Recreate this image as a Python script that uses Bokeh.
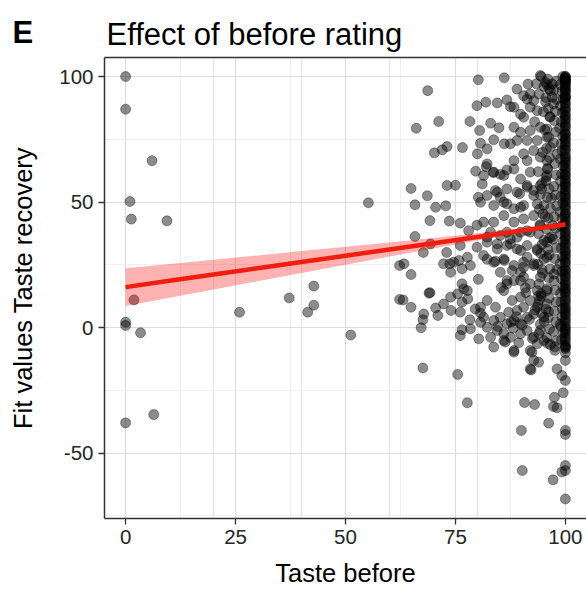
from bokeh.plotting import figure
from bokeh.models import (Range1d, SingleIntervalTicker, LinearAxis, Title, ColumnDataSource, Grid)
from bokeh.embed import file_html
from bokeh.resources import INLINE

# ---------------- data ----------------
# sparse points (low "taste before")
sparse_x = [0, 0, 6, 1, 1.3, 9.4, 55.2, 1.9, 0, 0, 3.4, 25.9, 37.2, 42.8, 41.4, 42.8, 51.2, 0, 6.4, 62.3, 62.3]
sparse_y = [100, 87, 66.5, 50.2, 43.2, 42.5, 49.7, 11, 2.1, 0.8, -2.1, 6.1, 11.8, 8.9, 6.1, 16.5, -3, -38, -34.7, 11.2, 24.7]

# medium points (62-80)
mid_x = [68.7, 80.2, 66.1, 71.2, 70.2, 72, 73.1, 76.6, 78.3, 79.9, 80.5, 80, 79.6, 64.9, 68.6, 65.8, 70.5,
         72.8, 73.1, 75, 69.2, 73.6, 76.1, 79.9, 65.8, 67.7, 63.3, 64.9, 69.2, 73, 73.7, 75.8, 76.5, 77.7,
         80.2, 76.5, 77.7, 79.9, 78, 69.3, 76.1, 72.3, 74.6, 78.4, 73.9,
         63.1, 64.9, 69, 67.8, 67.6, 67.2, 70.5, 71, 72.3, 73.9, 75.5, 76.9, 74, 76.1, 76.5, 77.8, 78.3,
         79.5, 76.1, 76.5, 78.4, 67.6, 75.5, 77.7, 80.3, 80.7, 80.7]
mid_y = [94.4, 98.7, 79.4, 82.1, 69.6, 70.8, 72.1, 71.7, 82.1, 88.4, 78.5, 69.2, 62.3, 55.4, 52.5, 48.9, 47.9,
         48.5, 56.6, 56.7, 42.6, 42.4, 41.6, 40.8, 36.3, 29.9, 25.4, 21.1, 13.9, 29.9, 25.4, 26.7, 23.4, 28,
         19.2, 17.4, 14.7, 32, 38.6, 33.3, 32.7, 25.4, 26, 24.7, 22,
         11, 8.1, 13.7, 5.4, 3.1, -0.1, 7.8, 4.8, 9.4, 12.1, 13.4, 15.4, 6.8, 6.1, 10.1, 11.4, 3.1,
         7.4, -3.2, -0.9, -0.5, -16.1, -18.7, -30, -4.5, 2.1, 5.7]

# dense cloud (80-97)
dense_x = [86.1, 81.9, 84.5, 86.7, 83, 84.9, 80.7, 82.2, 83.7, 86.1, 82, 83.6, 85.2, 86.7, 94.5, 93.4, 95.1,
           95.8, 90.5, 92, 92.8, 92, 93.6, 96.6, 97, 97.3, 88.3, 90.5, 88.3, 89.8, 89, 87.5, 91.3, 94.3,
           95.8, 92.8, 90.5, 94.3, 95.8, 91.3, 82.2, 88.3, 93.6, 96.6, 92, 94.3, 95.5, 87.5, 89.8, 91.3,
           94, 95.5, 93, 96.5, 95, 89, 91.5, 96, 97,
           81.1, 84.1, 85.2, 86.7, 89.6, 89.8, 91.3, 92.8, 80.2,
           81.4, 83.7, 86, 88.3, 89.8, 92, 91.3, 89, 86.7, 84.5, 82.2, 80.7, 83.7, 86, 88.3, 90.5, 92.8,
           92.8, 90.5, 88.3, 86, 83.7, 81.4, 83, 85.2, 87.5, 89.8, 92, 94.3, 95.8, 93.6, 91.3, 89, 86.7,
           84.5, 82.2, 81.4, 83.7, 86, 88.3, 90.5, 92.8, 95.1, 89.8, 85.2, 94.3, 95.1, 95.8,
           82.2, 84.1, 86.1, 87.9, 90.5, 86.7, 89.8, 91.3, 92.8, 95.1, 93.6, 82.2, 84.5, 86.7, 89, 91.3,
           89.8, 87.5,
           82.2, 84.1, 86, 86.7, 88.3, 87.9, 89.8, 89, 90.5, 92, 91.3, 92.8, 93.6, 89.8, 88.3, 86.7, 85.2,
           83.7, 82.2, 81.4, 80.7, 83, 84.5, 86, 87.5, 89.8, 91.3, 92.8, 94.3, 95.1, 95.8, 93.6, 92, 90.5,
           88.3, 92, 93.6, 95.1, 86, 83.7, 92.8, 92, 94.3, 95.8,
           88.3, 92.4, 93.9, 92.2, 90.7, 93, 90, 96.2, 97.5, 97.3, 98.1, 99.5, 98.1, 99.2, 90.2, 97.2, 99.2,
           94.5, 96.2, 95.4, 96.8, 94.8, 95.6, 96.3, 97.1, 94.1, 95.2, 96.6, 97.4, 95.9, 94.6, 96.9, 95.3,
           85.4, 87.1, 88.9, 90.2, 91.8, 93.1, 84.6, 86.3, 88.1, 89.4, 91.0, 92.5, 93.9, 87.7, 90.9, 94.7]
dense_y = [99.5, 89.8, 89.5, 90.7, 81.4, 79.6, 73.4, 71.2, 74.8, 73.2, 64.1, 61.8, 61, 62.8, 100, 97.1, 96,
           96.8, 92.4, 93.1, 90.4, 87.8, 86.4, 94.4, 91.8, 89.1, 87.8, 83.8, 79.8, 77.8, 74.5, 73.2, 74.5, 79.8,
           75.8, 70.5, 69.2, 67.9, 66.5, 66.5, 65.2, 66.5, 74.5, 71.8, 78.5, 100.4, 97.7, 88, 85, 91,
           93, 90, 82, 84, 86, 95, 97, 99, 97,
           57.2, 54.6, 51.9, 49.3, 53.3, 47.9, 55.9, 54.6, 51.9,
           60.6, 61.9, 60.6, 63.2, 59.2, 61.9, 56.6, 53.9, 55.2, 53.9, 52.6, 49.9, 48.6, 49.9, 47.3, 48.6, 52.6,
           44.6, 43.3, 42, 44.6, 42, 42, 38, 36.7, 35.3, 38, 38, 40.6, 34, 31.3, 32.7, 31.3, 32.7,
           31.3, 34, 28.7, 26, 27.3, 24.7, 26, 24.7, 27.3, 22, 22, 56.6, 48.6, 60.6,
           27.2, 26.4, 26.7, 22.7, 24, 18.7, 18.7, 28, 25.4, 34.7, 30.7, 36, 33.3, 38, 36, 38.6,
           30.7, 33.3,
           10.8, 8.1, 14.7, 17.4, 18.7, 10.8, 12.1, 6.8, 8.1, 10.8, 4.1, 5.4, 8.1, 1.5, 2.8, 1.5, 4.1,
           2.8, 0.1, 4.1, 8.1, -3.9, -1.2, -2.5, -3.9, -2.5, -1.2, -3.9, -1.2, 4.1, 9.4, 14.7, 17.4, 20.1,
           -9.2, -9.2, -6.5, -5.2, -5.2, -7.8, -13.1, -16.5, 20.1, 14.7,
           -9.8, -9.8, -13.8, -16.9, -29.9, -30.7, -41, -38.1, -27.8, -31.5, -32, -26, -16.5, -19.1, -57, -60.7, -57.6,
           12.5, 6.3, 44.2, 51.5, 69.8, 58.4, 28.9, 40.7, 47.1, 2.4, -6.8, 21.3, 63.5, 55.2, 36.1, 78.8, 15.9,
           6.1, 4.3, 0.9, 3.2, 7.0, 0.4, -5.8, -0.3, -6.1, 13.9, -4.4, 12.6, 2.2, 15.8, 23.1, 10.9]

# near-100 columns (solid black band)
col94_x = [94.1, 93.8, 94.6, 94.3, 93.6, 94.9, 94.2, 93.9, 94.7, 94.4, 93.7, 94.8, 94.0, 94.5, 93.8, 94.6, 94.3, 94.0]
col94_y = [62.1, 57.4, 53.0, 49.2, 45.3, 41.0, 37.4, 33.1, 29.5, 25.2, 21.6, 17.3, 13.5, 9.2, 5.6, 1.3, -2.4, -6.3]
col96_x = [95.9, 96.3, 95.6, 96.1, 96.5, 95.8, 96.2, 95.7, 96.4, 96.0, 95.6, 96.3, 95.9, 96.6, 96.1, 95.7,
           96.4, 96.0, 95.8, 96.5, 96.2, 95.9, 96.3, 95.6, 96.1, 96.4, 95.8]
col96_y = [95.2, 91.6, 87.3, 83.9, 79.1, 75.8, 71.4, 67.7, 63.2, 59.9, 55.3, 51.8, 47.5, 43.6, 39.2, 35.7,
           31.1, 27.9, 23.4, 19.8, 15.5, 11.7, 7.3, 3.8, -0.6, -4.1, -7.7]
col97_x = [97.6, 97.9, 97.4, 98.0, 97.7, 97.5, 97.8, 97.3, 98.1, 97.6, 97.9, 97.4, 97.7, 98.0, 97.5, 97.8,
           97.2, 97.9, 97.6, 98.1, 97.4, 97.7, 97.9, 97.5, 97.8, 97.3, 98.0, 97.6]
col97_y = [98.2, 94.7, 90.9, 86.2, 82.4, 77.9, 73.6, 69.1, 65.3, 60.8, 56.2, 52.7, 48.4, 44.1, 39.6, 35.2,
           31.8, 27.4, 23.1, 18.6, 14.9, 10.2, 6.5, 2.3, -1.6, -5.2, -9.1, 0.4]
col99_x = [99.0, 99.4, 98.8, 99.2, 99.5, 98.9, 99.3, 99.1, 98.7, 99.4, 99.0, 99.2, 98.8, 99.5, 99.1, 98.9,
           99.3, 99.0, 99.4, 98.8, 99.2, 99.1, 98.9, 99.5, 99.0, 99.3, 98.8, 99.2, 99.1, 99.4, 98.9, 99.0,
           99.3, 99.2, 98.8, 99.5, 99.1]
col99_y = [100, 96.8, 94.1, 91.2, 88.3, 85.6, 81.9, 79.4, 76.2, 73.1, 70.5, 67.2, 64.4, 61.1, 58.3, 55.5,
           52.2, 49.6, 46.1, 43.4, 40.3, 37.5, 34.2, 31.6, 28.1, 25.4, 22.3, 19.5, 16.2, 13.6, 10.1, 7.4,
           4.2, 1.3, -2.1, -4.8, -7.9]
col100_y = [100, 99.2, 98.1, 96.6, 95.3, 93.4, 92.2, 90.7, 88.9, 87.6, 86.1, 84.3, 83.2, 81.4, 79.9, 78.6,
            76.8, 75.7, 74.1, 72.4, 71.2, 69.3, 68.1, 66.6, 64.8, 63.7, 61.9, 60.5, 59.2, 57.4, 56.1, 54.3,
            53.2, 51.6, 49.8, 48.7, 46.9, 45.6, 44.2, 42.4, 41.3, 39.5, 38.1, 36.6, 34.9, 33.7, 31.8, 30.6,
            29.1, 27.3, 26.2, 24.4, 23.1, 21.5, 19.8, 18.6, 16.9, 15.7, 14.1, 12.3, 11.2, 9.4, 8.1, 6.6,
            4.9, 3.7, 1.8, 0.6, -0.9, -2.7, -3.8, -5.6, -6.9, -8.4, -10.1, -13.1, -21.1, -41, -42.6, -55, -57, -68.3,
            100, 99.5, 98.5, 97.8, 95.9, 94.1, 91.5,
            98.9, 97.2, 94.6, 91.9, 89.5, 87.0, 84.8, 82.6, 80.4, 77.3, 75.0, 73.0, 70.6, 67.5, 65.7, 63.0,
            60.9, 58.6, 56.9, 55.0, 52.5, 50.7, 47.9, 45.2, 43.3, 40.6, 37.7, 35.8, 33.0, 30.1, 28.4, 25.7,
            22.5, 20.4, 17.7, 15.2, 13.5, 10.5, 7.5, 5.6, 2.8, -0.2, -1.8, -4.6, -7.5, -9.3]

# regression fit with confidence band
fit_x = [0, 10, 20, 30, 40, 50, 60, 70, 80, 90, 100]
fit_y = [16.1, 18.6, 21.1, 23.6, 26.1, 28.6, 31.1, 33.6, 36.1, 38.6, 41.1]
fit_upper = [23.6, 25.31, 27.02, 28.73, 30.45, 32.18, 33.92, 35.69, 37.54, 39.63, 42.25]
fit_lower = [8.6, 11.89, 15.18, 18.47, 21.75, 25.02, 28.28, 31.51, 34.66, 37.57, 39.95]

x_ticks = [0, 25, 50, 75, 100]
y_ticks = [-50, 0, 50, 100]
y_tick_labels = {-50: "-50", 0: "0", 50: "50", 100: "100"}

# ---------------- assemble ----------------
all_x = (sparse_x + mid_x + dense_x + col94_x + col96_x + col97_x + col99_x
         + [100] * len(col100_y))
all_y = sparse_y + mid_y + dense_y + col94_y + col96_y + col97_y + col99_y + col100_y
pts = ColumnDataSource(dict(x=all_x, y=all_y))
band = ColumnDataSource(dict(x=fit_x, y=fit_y, lo=fit_lower, hi=fit_upper))

FONT = "Liberation Sans"

p = figure(width=586, height=591, output_backend="svg", toolbar_location=None,
           x_range=Range1d(-4.8, 104.8), y_range=Range1d(-76.1, 107.6),
           min_border_left=104, min_border_right=0, min_border_top=57, min_border_bottom=73,
           x_axis_location=None, y_axis_location=None)
p.background_fill_color = "white"
p.border_fill_color = "white"
p.outline_line_color = None

# title
p.title.text = "Effect of before rating"
p.title.text_font = FONT
p.title.text_font_size = "31px"
p.title.text_font_style = "normal"
p.title.text_color = "black"
p.title.align = "left"
p.title.offset = 2
p.title.standoff = -92

# axes
xaxis = LinearAxis()
xaxis.ticker = x_ticks
yaxis = LinearAxis()
yaxis.ticker = y_ticks
yaxis.major_label_overrides = y_tick_labels
for ax in (xaxis, yaxis):
    ax.axis_line_color = "#333333"
    ax.axis_line_width = 1.5
    ax.major_tick_line_color = "#333333"
    ax.major_tick_line_width = 1.3
    ax.major_tick_in = 0
    ax.major_tick_out = 6
    ax.minor_tick_line_color = None
    ax.major_label_text_font = FONT
    ax.major_label_text_font_size = "20.5px"
    ax.major_label_text_color = "#262626"
    ax.axis_label_text_font = FONT
    ax.axis_label_text_font_size = "25.5px"
    ax.axis_label_text_font_style = "normal"
    ax.axis_label_text_color = "black"
    ax.major_label_standoff = 5
xaxis.axis_label = "Taste before"
xaxis.axis_label_standoff = 12
yaxis.axis_label = "Fit values Taste recovery"
yaxis.axis_label_standoff = 19
p.add_layout(xaxis, "below")
p.add_layout(yaxis, "left")
top_axis = LinearAxis(major_tick_line_color=None, minor_tick_line_color=None,
                      major_label_text_color=None, axis_line_color="#333333", axis_line_width=1.5)
top_axis.ticker = []
p.add_layout(top_axis, "above")

# panel tag "E" on the same line as the title
tag = Title(text="E", text_font=FONT, text_font_size="31px", text_font_style="bold",
            text_color="black", align="left", offset=-92, standoff=15)
p.add_layout(tag, "above")

# grids (major + minor, ggplot theme_bw style)
gx = Grid(dimension=0, ticker=SingleIntervalTicker(interval=25, num_minor_ticks=2),
          grid_line_color="#dcdcdc", grid_line_width=1.2,
          minor_grid_line_color="#ececec", minor_grid_line_width=0.8)
gy = Grid(dimension=1, ticker=SingleIntervalTicker(interval=50, num_minor_ticks=2),
          grid_line_color="#dcdcdc", grid_line_width=1.2,
          minor_grid_line_color="#ececec", minor_grid_line_width=0.8)
p.add_layout(gx)
p.add_layout(gy)

# points
p.scatter("x", "y", source=pts, size=10, fill_color="black", fill_alpha=0.45,
          line_color="black", line_alpha=0.35, line_width=1)

# confidence band + fit line
p.varea(x="x", y1="lo", y2="hi", source=band, fill_color="#ff0000", fill_alpha=0.3)
p.line(x="x", y="y", source=band, line_color="#f01e0e", line_width=4.5)

open("out.html", "w").write(file_html(p, INLINE))
